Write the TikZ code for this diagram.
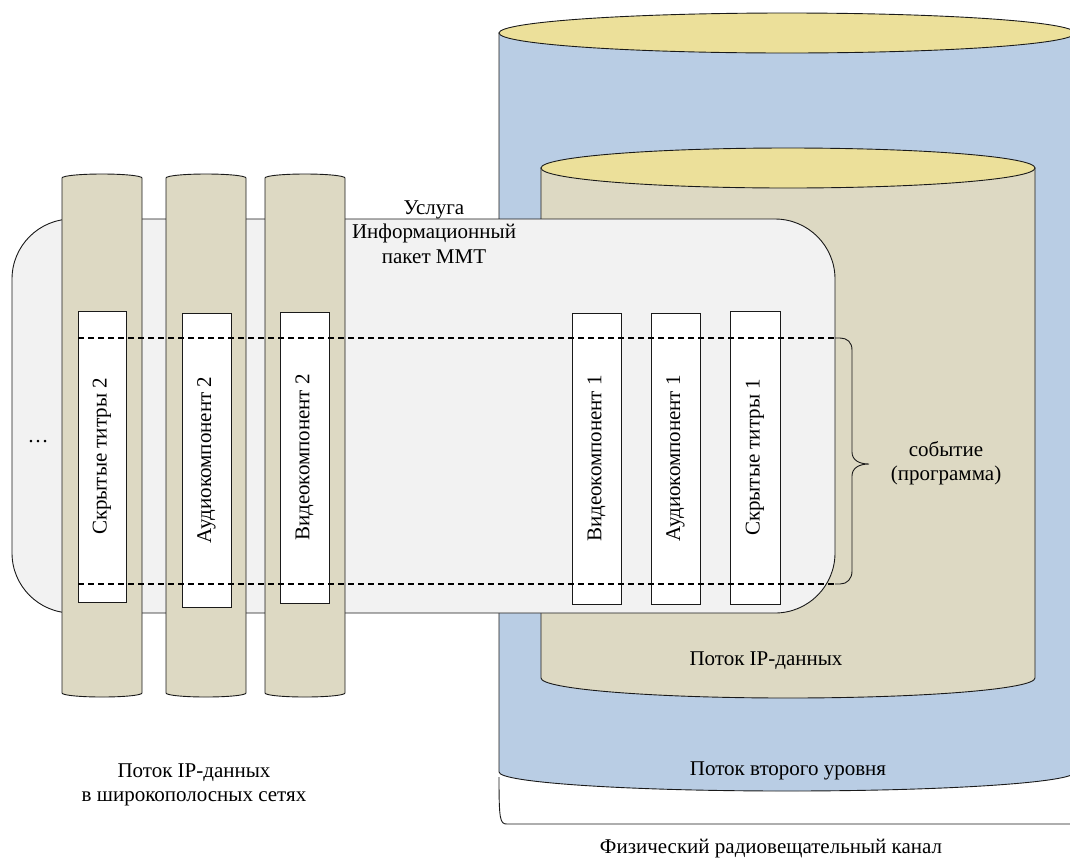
\documentclass[tikz,border=0pt]{standalone}
\usepackage{fontspec}
\setmainfont{Liberation Serif}
\definecolor{blueC}{HTML}{B9CDE4}
\definecolor{yelC}{HTML}{ECE09A}
\definecolor{tanC}{HTML}{DDD9C3}
\definecolor{greyC}{HTML}{F2F2F2}
\definecolor{lineC}{HTML}{1A1A1A}
\tikzset{
  lbl/.style={font=\fontsize{21}{24.5}\selectfont, align=center, inner sep=0pt},
  comp/.style={draw=lineC, fill=white, line width=0.9pt, rotate=90, inner sep=0pt,
               font=\fontsize{21}{24}\selectfont},
  outl/.style={draw=lineC, line width=0.9pt},
  dashline/.style={draw=black, dash pattern=on 6pt off 4pt, line width=1.5pt},
}
\begin{document}
\begin{tikzpicture}[x=1pt,y=-1pt]
\useasboundingbox (0,0) rectangle (1070,863);
\clip (0,0) rectangle (1070,863);
% big cylinder (second level stream)
\path[outl, fill=blueC] (499,33) -- (499,772)
  arc[start angle=180, end angle=360, x radius=288pt, y radius=19pt]
  -- (1075,33) -- cycle;
\path[outl, fill=yelC] (787,33) ellipse [x radius=288pt, y radius=20pt];
% inner cylinder (IP stream)
\path[outl, fill=tanC] (541,168) -- (541,678)
  arc[start angle=180, end angle=360, x radius=247pt, y radius=20pt]
  -- (1035,168) -- cycle;
\path[outl, fill=yelC] (788,168) ellipse [x radius=247pt, y radius=20pt];
% bottom bracket
\coordinate (bL) at (499,777);
\coordinate (bR) at (1080,824);
\draw[draw=lineC, line width=0.9pt] (bL) .. controls (499,820) and (500,824) .. (507,824) -- (bR);
% MMT package rounded rectangle
\path[outl, fill=greyC, rounded corners=60pt] (12,219) rectangle (835,613);
% broadband stream bars
\foreach \xa/\xb in {62/142, 166/246, 265/345}{
  \path[outl, fill=tanC] (\xa,178) -- (\xa,693)
    arc[start angle=180, end angle=360, x radius={(\xb-\xa)/2*1pt}, y radius=4pt]
    -- (\xb,178)
    arc[start angle=0, end angle=180, x radius={(\xb-\xa)/2*1pt}, y radius=4pt]
    -- cycle;
}
% components
\node[comp, minimum width=291pt, minimum height=48pt] (s2) at (102,456.5) {Скрытые титры 2};
\node[comp, minimum width=294pt, minimum height=49pt] (a2) at (206.5,460) {Аудиокомпонент 2};
\node[comp, minimum width=291pt, minimum height=49pt] (v2) at (304.5,457.5) {Видеокомпонент 2};
\node[comp, minimum width=291pt, minimum height=49pt] (v1) at (596.5,458.5) {Видеокомпонент 1};
\node[comp, minimum width=291pt, minimum height=49pt] (a1) at (675.5,458.5) {Аудиокомпонент 1};
\node[comp, minimum width=293pt, minimum height=50pt] (s1) at (755,457.5) {Скрытые титры 1};
% event dashed lines and brace
\coordinate (dTL) at (78,338);
\coordinate (dTR) at (835,338);
\coordinate (dBL) at (78,584);
\coordinate (dBR) at (835,584);
\draw[dashline] (dTL) -- (dTR);
\draw[dashline] (dBL) -- (dBR);
\draw[draw=lineC, line width=0.9pt] (dTR) -- (840,338)
  .. controls (847,338) and (852,342) .. (852,350) -- (852,452)
  .. controls (852,460) and (859,464) .. (869,464)
  .. controls (859,464) and (852,468) .. (852,476) -- (852,571)
  .. controls (852,579) and (847,584) .. (840,584) -- (dBR);
% labels
\node[lbl] (dots) at (38,442) {…};
\node[lbl] (svc) at (434,232) {Услуга\\Информационный\\пакет MMT};
\node[lbl] (evt) at (946,463) {событие\\(программа)};
\node[lbl] (ipin) at (766,661) {Поток IP-данных};
\node[lbl] (l2) at (788,771) {Поток второго уровня};
\node[lbl] (phy) at (771,849) {Физический радиовещательный канал};
\node[lbl] (ipbb) at (194,785) {Поток IP-данных\\в широкополосных сетях};
\end{tikzpicture}
\end{document}
